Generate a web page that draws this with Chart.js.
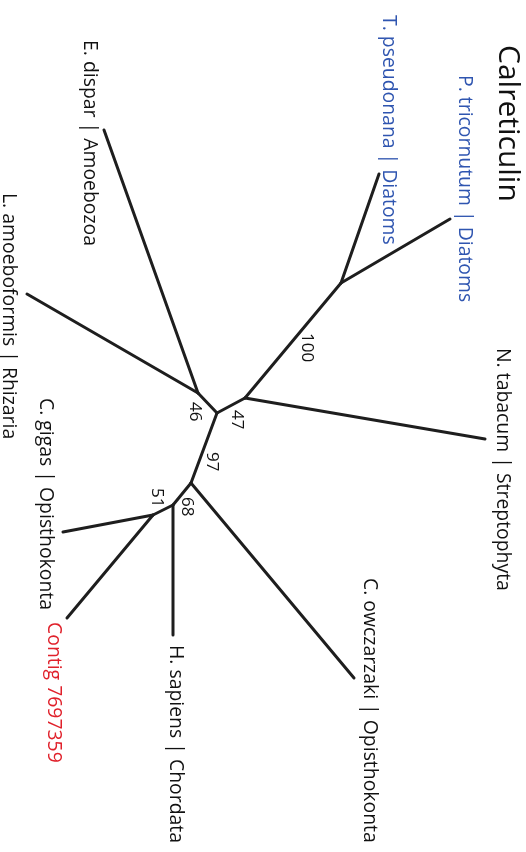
<!DOCTYPE html>
<html>
<head>
<meta charset="utf-8">
<script src="https://cdn.jsdelivr.net/npm/chart.js@4.4.1/dist/chart.umd.min.js"></script>
<style>
  html, body { margin: 0; padding: 0; background: #fff; }
  #wrap { width: 526px; height: 852px; position: relative; }
</style>
</head>
<body>
<div id="wrap"><canvas id="tree"></canvas></div>
<script>
// tree nodes (layout units: x across, y down)
const nodeIds = ["tPseu", "pTric", "diat", "n47", "nTab", "root", "n46", "eDis", "lAmo", "n97", "cOwc", "n68", "hSap", "n51", "cGig", "contig"];
const nodeX = [379, 450, 341, 245, 485, 217, 198, 104, 27, 191, 354, 173, 173, 153, 63, 67];
const nodeY = [174, 219, 283, 398, 439, 413, 393, 130, 294, 483, 678, 505, 635, 515, 532, 618];

const edgeFrom = ["diat", "diat", "n47", "n47", "root", "root", "n46", "n46", "root", "n97", "n97", "n68", "n68", "n51", "n51"];
const edgeTo = ["tPseu", "pTric", "diat", "nTab", "n47", "n46", "eDis", "lAmo", "n97", "cOwc", "n68", "hSap", "n51", "cGig", "contig"];

// tip labels (anchor = top of rotated text)
const tipText = ["P. tricornutum | Diatoms", "T. pseudonana | Diatoms", "E. dispar | Amoebozoa", "L. amoeboformis | Rhizaria", "C. gigas | Opisthokonta", "Contig 7697359", "H. sapiens | Chordata", "C. owczarzaki | Opisthokonta", "N. tabacum | Streptophyta"];
const tipX = [465, 389, 90, 9, 46, 54, 176, 370, 503];
const tipY = [75, 15, 40, 193, 398, 622, 645, 578, 348];
const tipColor = ["#2f55b0", "#2f55b0", "#111", "#111", "#111", "#e0212b", "#111", "#111", "#111"];

// bootstrap support
const supportText = ["100", "47", "46", "97", "51", "68"];
const supportX = [307, 237, 195, 212, 157, 187];
const supportY = [333, 410, 402, 452, 488, 497];

const titleText = "Calreticulin";

const xy = (id) => {
  const i = nodeIds.indexOf(id);
  return { x: nodeX[i], y: nodeY[i] };
};

const edgeSets = edgeFrom.map((from, i) => ({
  data: [xy(from), xy(edgeTo[i])],
  showLine: true,
  borderColor: "#1e1e1e",
  borderWidth: 3,
  pointRadius: 0,
  borderCapStyle: "round",
}));

const rotatedText = {
  id: "rotatedText",
  afterDatasetsDraw(chart) {
    const { ctx, scales } = chart;
    const put = (text, x, y, font, color) => {
      ctx.save();
      ctx.translate(scales.x.getPixelForValue(x), scales.y.getPixelForValue(y));
      ctx.rotate(Math.PI / 2);
      ctx.font = font;
      ctx.fillStyle = color;
      ctx.textAlign = "left";
      ctx.textBaseline = "middle";
      ctx.fillText(text, 0, 0);
      ctx.restore();
    };
    put(titleText, 508, 45, "30px 'Open Sans'", "#111");
    tipText.forEach((t, i) => put(t, tipX[i], tipY[i], "19.4px 'Open Sans'", tipColor[i]));
    supportText.forEach((t, i) => put(t, supportX[i], supportY[i], "17px 'Open Sans'", "#111"));
  },
};

new Chart(document.getElementById("tree"), {
  type: "scatter",
  data: { datasets: edgeSets },
  options: {
    responsive: true,
    maintainAspectRatio: false,
    animation: false,
    layout: { padding: 0 },
    plugins: { legend: { display: false }, tooltip: { enabled: false } },
    scales: {
      x: { display: false, min: 0, max: 526 },
      y: { display: false, min: 0, max: 852, reverse: true },
    },
  },
  plugins: [rotatedText],
});
</script>
</body>
</html>
